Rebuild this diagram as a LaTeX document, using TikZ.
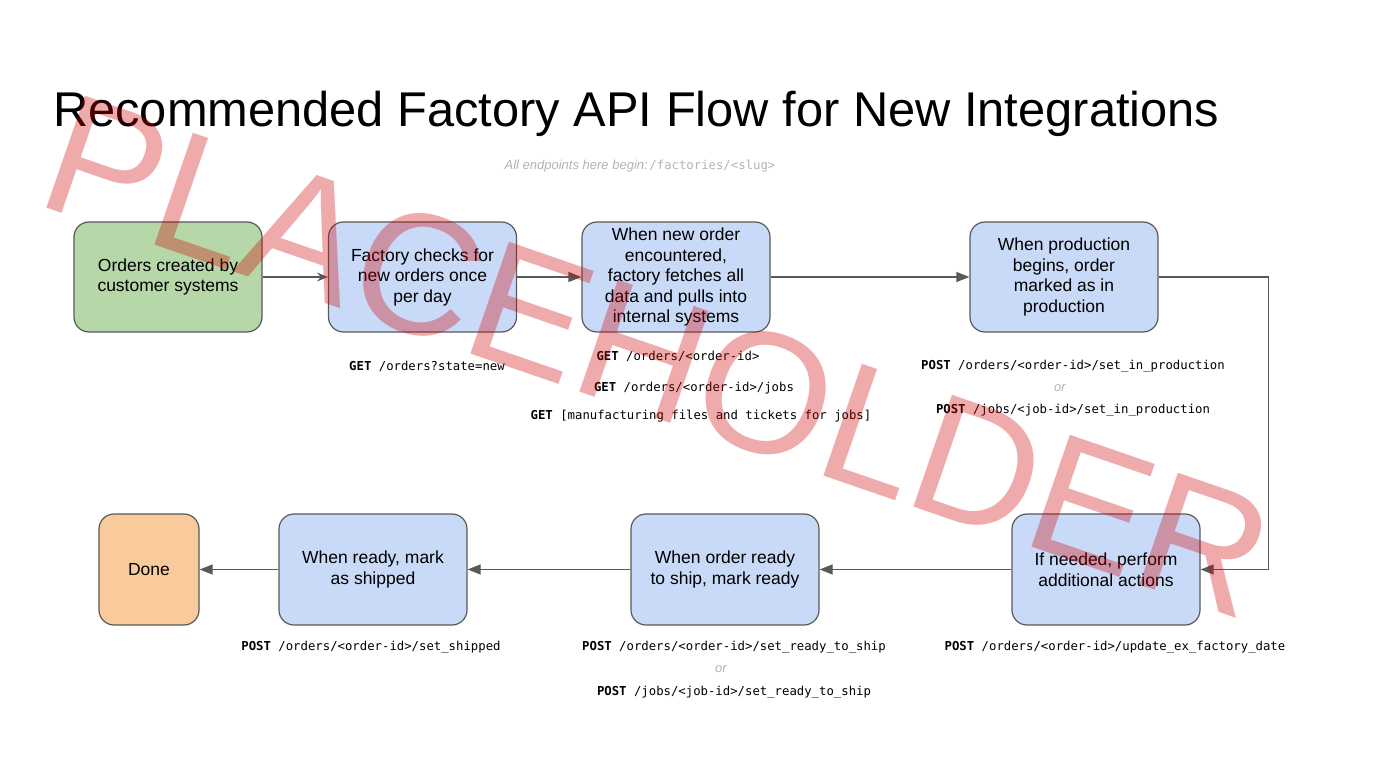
\documentclass[tikz,border=0pt]{standalone}
\usepackage{fontspec}
\setmainfont{Liberation Sans}
\setmonofont{DejaVu Sans Mono}
\usetikzlibrary{arrows.meta}
\definecolor{edge}{HTML}{595959}
\definecolor{greenfill}{HTML}{B6D7A8}
\definecolor{bluefill}{HTML}{C9DAF8}
\definecolor{orangefill}{HTML}{F9CB9C}
\definecolor{subgrey}{HTML}{B4B4B4}
\definecolor{wmred}{RGB}{209,0,0}
\tikzset{
  box/.style={draw=edge, line width=1.2pt, rounded corners=15pt, minimum width=188pt, minimum height=110pt, align=center, font=\fontsize{17.5}{20.5}\selectfont, inner sep=2pt},
  arr/.style={draw=edge, line width=1.2pt, -{Triangle[length=13pt,width=10pt]}},
  arrb/.style={draw=edge, line width=1.2pt, -{Stealth[length=11pt,width=9pt,inset=4pt]}},
  api/.style={font=\fontsize{12.3}{14}\selectfont\ttfamily, inner sep=0pt},
  ortext/.style={font=\fontsize{13}{15}\selectfont\itshape, text=subgrey, inner sep=0pt}
}
\begin{document}
\begin{tikzpicture}[x=1pt,y=-1pt]
\useasboundingbox (0,0) rectangle (1374,770);
\fill[white] (0,0) rectangle (1374,770);

\node[anchor=base west, font=\fontsize{48.8}{52}\selectfont, inner sep=0pt] (title) at (53,127) {Recommended Factory API Flow for New Integrations};
\node[anchor=center, inner sep=0pt, text=subgrey] (sub) at (640,166) {{\fontsize{13}{15}\selectfont\itshape All endpoints here begin:}\,{\fontsize{12.3}{14}\selectfont\ttfamily /factories/<slug>}};

% row 1
\node[box, fill=greenfill] (b1) at (168,277) {Orders created by\\customer systems};
\node[box, fill=bluefill] (b2) at (422.5,277) {Factory checks for\\new orders once\\per day};
\node[box, fill=bluefill] (b3) at (676,277) {When new order\\encountered,\\factory fetches all\\data and pulls into\\internal systems};
\node[box, fill=bluefill] (b4) at (1064,277) {When production\\begins, order\\marked as in\\production};

% row 2
\node[box, fill=orangefill, minimum width=100pt, minimum height=111pt] (b5) at (149,569.5) {Done};
\node[box, fill=bluefill, minimum height=111pt] (b6) at (373,569.5) {When ready, mark\\as shipped};
\node[box, fill=bluefill, minimum height=111pt] (b7) at (725,569.5) {When order ready\\to ship, mark ready};
\node[box, fill=bluefill, minimum height=111pt] (b8) at (1106,569.5) {If needed, perform\\additional actions};

% connectors
\draw[arrb] (b1) -- (b2);
\draw[arr] (b2) -- (b3);
\draw[arr] (b3) -- (b4);
\draw[arr] (b4.east) -- ++(110,0) |- (b8.east);
\draw[arr] (b8) -- (b7);
\draw[arr] (b7) -- (b6);
\draw[arr] (b6) -- (b5);

% api labels
\node[api] (l2) at (427,366) {\textbf{GET} /orders?state=new};
\node[api] (l3a) at (678,356) {\textbf{GET} /orders/<order-id>};
\node[api] (l3b) at (694,388) {\textbf{GET} /orders/<order-id>/jobs};
\node[api] (l3c) at (701,416) {\textbf{GET} [manufacturing files and tickets for jobs]};
\node[api] (l4a) at (1073,366) {\textbf{POST} /orders/<order-id>/set\_in\_production};
\node[ortext] (l4o) at (1060,388) {or};
\node[api] (l4b) at (1073,410) {\textbf{POST} /jobs/<job-id>/set\_in\_production};
\node[api] (l6) at (371,647) {\textbf{POST} /orders/<order-id>/set\_shipped};
\node[api] (l7a) at (734,647) {\textbf{POST} /orders/<order-id>/set\_ready\_to\_ship};
\node[ortext] (l7o) at (721,669) {or};
\node[api] (l7b) at (734,692) {\textbf{POST} /jobs/<job-id>/set\_ready\_to\_ship};
\node[api] (l8) at (1115,647) {\textbf{POST} /orders/<order-id>/update\_ex\_factory\_date};

% watermark
\node[rotate=-19, text=wmred, text opacity=0.33, font=\fontsize{172}{180}\selectfont, inner sep=0pt] (wm) at (658,356) {PLACEHOLDER};
\end{tikzpicture}
\end{document}
